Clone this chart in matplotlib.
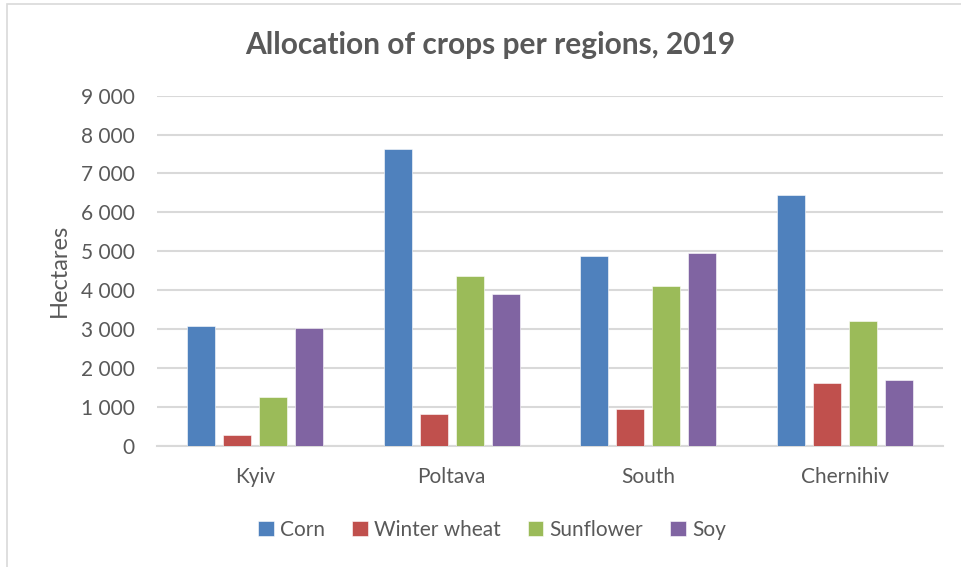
import numpy as np
import matplotlib.pyplot as plt
from matplotlib.patches import Rectangle
from matplotlib.ticker import FuncFormatter

plt.rcParams['font.family'] = ['Lato', 'DejaVu Sans']

regions = ['Kyiv', 'Poltava', 'South', 'Chernihiv']
crops = ['Corn', 'Winter wheat', 'Sunflower', 'Soy']
corn = [3080, 7630, 4870, 6455]
winter_wheat = [280, 815, 945, 1620]
sunflower = [1250, 4365, 4100, 3200]
soy = [3025, 3900, 4955, 1680]
yticks = [0, 1000, 2000, 3000, 4000, 5000, 6000, 7000, 8000, 9000]

colors = ['#4F81BD', '#C0504D', '#9BBB59', '#8064A2']
text_color = '#595959'
grid_color = '#D9D9D9'


def main():
    fig = plt.figure(figsize=(9.62, 5.67), dpi=100)
    # chart frame
    fig.patches.append(Rectangle((7 / 962, -0.1), 1.1, 1.1 - 4 / 567,
                                 transform=fig.transFigure, fill=False,
                                 edgecolor='#D9D9D9', linewidth=1.2))

    ax = fig.add_axes([157 / 962, (567 - 445.7) / 567, 786 / 962, 350 / 567])
    x = np.arange(len(regions))
    slot = 0.183
    width = 0.1425
    series = [corn, winter_wheat, sunflower, soy]
    for i, (name, vals) in enumerate(zip(crops, series)):
        ax.bar(x + (i - 1.5) * slot, vals, width, color=colors[i], label=name,
               edgecolor='white', linewidth=0.4, zorder=3)

    ax.set_xlim(-0.5, len(regions) - 0.5)
    ax.set_ylim(0, 9000)
    ax.set_yticks(yticks)
    ax.yaxis.set_major_formatter(FuncFormatter(lambda v, p: f"{int(v):,}".replace(',', ' ')))
    ax.set_xticks(x)
    ax.set_xticklabels(regions)
    ax.tick_params(axis='both', length=0, labelsize=15, colors=text_color)
    ax.tick_params(axis='y', pad=16)
    ax.tick_params(axis='x', pad=15)
    ax.grid(axis='y', color=grid_color, linewidth=1.5, zorder=0)
    for s in ['top', 'right', 'left']:
        ax.spines[s].set_visible(False)
    ax.spines['bottom'].set_color(grid_color)
    ax.spines['bottom'].set_linewidth(1.5)

    ax.set_ylabel('Hectares', fontsize=17, color=text_color, labelpad=8)
    fig.text(490 / 962, 1 - 45 / 567, 'Allocation of crops per regions, 2019',
             ha='center', va='center', fontsize=21.5, fontweight='bold',
             color=text_color)

    fig.legend(loc='center', bbox_to_anchor=(492 / 962, 1 - 530 / 567), ncol=4,
               frameon=False, fontsize=15, labelcolor=text_color,
               handlelength=0.75, handleheight=0.75, handletextpad=0.3,
               columnspacing=1.3)

    fig.savefig('out.png', dpi=100)
    plt.close(fig)


if __name__ == '__main__':
    main()
